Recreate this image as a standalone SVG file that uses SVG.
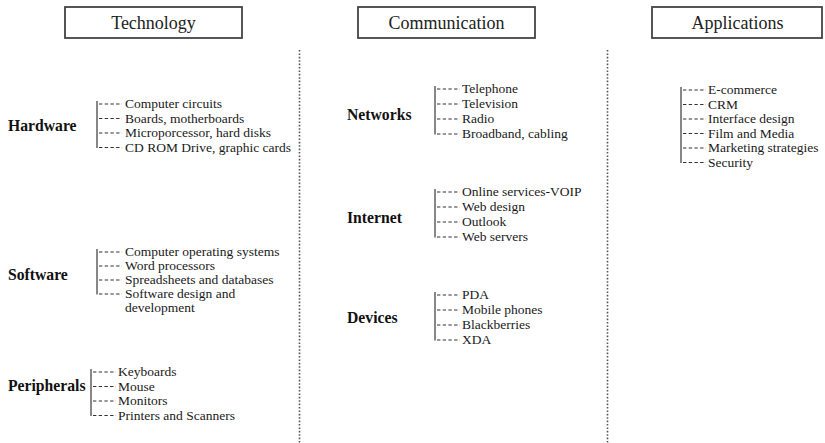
<svg xmlns="http://www.w3.org/2000/svg" width="825" height="443" viewBox="0 0 825 443">
<style>
.box{fill:#fff;stroke:#444;stroke-width:1.8}
.title{font-family:"Liberation Serif",serif;font-size:18px;fill:#222;text-anchor:middle}
.cat{font-family:"Liberation Serif",serif;font-size:15.7px;font-weight:bold;fill:#111}
.item{font-family:"Liberation Serif",serif;font-size:13.5px;fill:#1a1a1a}
.sep{stroke:#555;stroke-width:1.6;stroke-dasharray:1.6,1.8}
.br{stroke:#555;stroke-width:1.4;fill:none}
.dash{stroke:#333;stroke-width:1.2;stroke-dasharray:3.4,2.3}
</style>
<rect width="825" height="443" fill="#fff"/>
<g id="separators">
<line class="sep" x1="299.5" y1="50" x2="299.5" y2="443"/>
<line class="sep" x1="607.5" y1="50" x2="607.5" y2="443"/>
</g>
<g id="col-technology">
<rect class="box" x="65" y="7" width="177" height="31"/>
<text class="title" x="153.5" y="29">Technology</text>
</g>
<g id="col-communication">
<rect class="box" x="358" y="7" width="177" height="31"/>
<text class="title" x="446.5" y="29">Communication</text>
</g>
<g id="col-applications">
<rect class="box" x="652" y="7" width="170" height="31"/>
<text class="title" x="737.5" y="29">Applications</text>
</g>
<g id="connectors">
<!-- Hardware -->
<line class="br" x1="97" y1="101" x2="97" y2="148"/>
<line class="dash" x1="99" y1="104" x2="122" y2="104"/>
<line class="dash" x1="99" y1="118.5" x2="122" y2="118.5"/>
<line class="dash" x1="99" y1="133" x2="122" y2="133"/>
<line class="dash" x1="99" y1="147.5" x2="122" y2="147.5"/>
<!-- Software -->
<line class="br" x1="97" y1="249" x2="97" y2="294.5"/>
<line class="dash" x1="99" y1="252" x2="122" y2="252"/>
<line class="dash" x1="99" y1="266" x2="122" y2="266"/>
<line class="dash" x1="99" y1="280" x2="122" y2="280"/>
<line class="dash" x1="99" y1="294" x2="122" y2="294"/>
<!-- Peripherals -->
<line class="br" x1="91" y1="369" x2="91" y2="416"/>
<line class="dash" x1="93" y1="372" x2="116" y2="372"/>
<line class="dash" x1="93" y1="386.5" x2="116" y2="386.5"/>
<line class="dash" x1="93" y1="401" x2="116" y2="401"/>
<line class="dash" x1="93" y1="415.5" x2="116" y2="415.5"/>
<!-- Networks -->
<line class="br" x1="435" y1="86" x2="435" y2="134.5"/>
<line class="dash" x1="437" y1="89" x2="460" y2="89"/>
<line class="dash" x1="437" y1="104" x2="460" y2="104"/>
<line class="dash" x1="437" y1="119" x2="460" y2="119"/>
<line class="dash" x1="437" y1="134" x2="460" y2="134"/>
<!-- Internet -->
<line class="br" x1="435" y1="189" x2="435" y2="237.5"/>
<line class="dash" x1="437" y1="192" x2="460" y2="192"/>
<line class="dash" x1="437" y1="207" x2="460" y2="207"/>
<line class="dash" x1="437" y1="222" x2="460" y2="222"/>
<line class="dash" x1="437" y1="237" x2="460" y2="237"/>
<!-- Devices -->
<line class="br" x1="435" y1="292" x2="435" y2="340.5"/>
<line class="dash" x1="437" y1="295" x2="460" y2="295"/>
<line class="dash" x1="437" y1="310" x2="460" y2="310"/>
<line class="dash" x1="437" y1="325" x2="460" y2="325"/>
<line class="dash" x1="437" y1="340" x2="460" y2="340"/>
<!-- Applications -->
<line class="br" x1="681" y1="87" x2="681" y2="163"/>
<line class="dash" x1="683" y1="90" x2="706" y2="90"/>
<line class="dash" x1="683" y1="104.5" x2="706" y2="104.5"/>
<line class="dash" x1="683" y1="119" x2="706" y2="119"/>
<line class="dash" x1="683" y1="133.5" x2="706" y2="133.5"/>
<line class="dash" x1="683" y1="148" x2="706" y2="148"/>
<line class="dash" x1="683" y1="162.5" x2="706" y2="162.5"/>
</g>
<g id="hardware">
<text class="cat" x="8" y="131">Hardware</text>
<text class="item" x="125" y="108">Computer circuits</text>
<text class="item" x="125" y="122.5">Boards, motherboards</text>
<text class="item" x="125" y="137">Microporcessor, hard disks</text>
<text class="item" x="125" y="151.5">CD ROM Drive, graphic cards</text>
</g>
<g id="software">
<text class="cat" x="8" y="280">Software</text>
<text class="item" x="125" y="256">Computer operating systems</text>
<text class="item" x="125" y="270">Word processors</text>
<text class="item" x="125" y="284">Spreadsheets and databases</text>
<text class="item" x="125" y="298">Software design and</text>
<text class="item" x="125" y="312">development</text>
</g>
<g id="peripherals">
<text class="cat" x="8" y="391">Peripherals</text>
<text class="item" x="118" y="376">Keyboards</text>
<text class="item" x="118" y="390.5">Mouse</text>
<text class="item" x="118" y="405">Monitors</text>
<text class="item" x="118" y="419.5">Printers and Scanners</text>
</g>
<g id="networks">
<text class="cat" x="347" y="120">Networks</text>
<text class="item" x="462" y="93">Telephone</text>
<text class="item" x="462" y="108">Television</text>
<text class="item" x="462" y="123">Radio</text>
<text class="item" x="462" y="138">Broadband, cabling</text>
</g>
<g id="internet">
<text class="cat" x="347" y="223">Internet</text>
<text class="item" x="462" y="196">Online services-VOIP</text>
<text class="item" x="462" y="211">Web design</text>
<text class="item" x="462" y="226">Outlook</text>
<text class="item" x="462" y="241">Web servers</text>
</g>
<g id="devices">
<text class="cat" x="347" y="323">Devices</text>
<text class="item" x="462" y="299">PDA</text>
<text class="item" x="462" y="314">Mobile phones</text>
<text class="item" x="462" y="329">Blackberries</text>
<text class="item" x="462" y="344">XDA</text>
</g>
<g id="applications">
<text class="item" x="708" y="94">E-commerce</text>
<text class="item" x="708" y="108.5">CRM</text>
<text class="item" x="708" y="123">Interface design</text>
<text class="item" x="708" y="137.5">Film and Media</text>
<text class="item" x="708" y="152">Marketing strategies</text>
<text class="item" x="708" y="166.5">Security</text>
</g>
</svg>
